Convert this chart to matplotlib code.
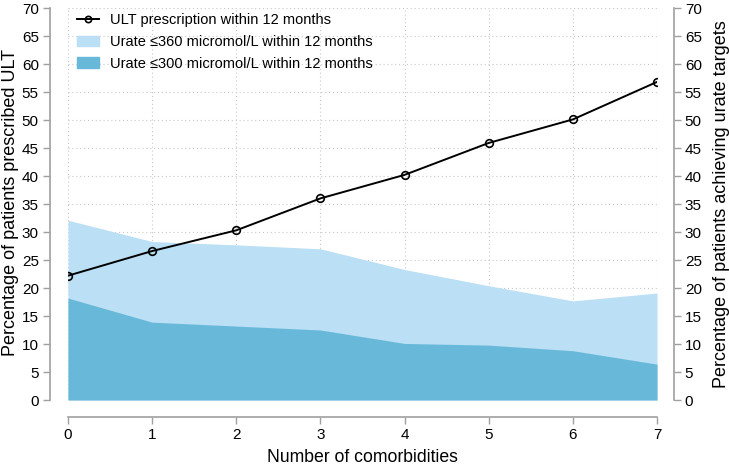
import matplotlib
matplotlib.use("Agg")
import matplotlib.pyplot as plt
from matplotlib.lines import Line2D
from matplotlib.patches import Patch

comorbidities = [0, 1, 2, 3, 4, 5, 6, 7]
ult_prescription = [22.2, 26.6, 30.3, 36.0, 40.2, 45.9, 50.1, 56.8]
urate_360 = [32.1, 28.3, 27.7, 27.0, 23.3, 20.4, 17.7, 19.1]
urate_300 = [18.2, 13.9, 13.2, 12.5, 10.1, 9.8, 8.8, 6.4]
yticks = list(range(0, 75, 5))

plt.rcParams['font.family'] = ['Liberation Sans', 'DejaVu Sans']

fig = plt.figure(figsize=(7.29, 4.66), dpi=100)
ax = fig.add_axes([68/729, 1-400/466, (657-68)/729, (400-8)/466])

light = '#bbdff4'
dark = '#68b8da'
gray = '#a0a0a0'

ax.fill_between(comorbidities, 0, urate_360, color=light, lw=0, zorder=1)
ax.fill_between(comorbidities, 0, urate_300, color=dark, lw=0, zorder=2)
ax.plot(comorbidities, ult_prescription, color='black', lw=1.4, marker='o',
        ms=5.5, mfc='none', mec='black', mew=1.2, zorder=4)

ax.set_xlim(0, 7)
ax.set_ylim(0, 70)
ax.set_xticks(comorbidities)
ax.set_yticks(yticks)
ax.grid(True, linestyle=(0, (1, 2.5)), color='#c8c8c8', lw=0.8, zorder=0)
ax.set_axisbelow(True)

ax.spines['top'].set_visible(False)
ax.spines['right'].set_visible(False)
ax.spines['left'].set_position(('outward', 13))
ax.spines['bottom'].set_position(('outward', 12))
for s in ['left', 'bottom']:
    ax.spines[s].set_color(gray)
    ax.spines[s].set_linewidth(1.2)
ax.tick_params(axis='both', colors=gray, labelcolor='black', labelsize=11,
               length=5, width=1, pad=3)
ax.set_xlabel('Number of comorbidities', fontsize=12.7, labelpad=5)
ax.set_ylabel('Percentage of patients prescribed ULT', fontsize=13)
ax.yaxis.set_label_coords((19 - 68) / 589, 0.505)

ax2 = ax.twinx()
ax2.set_ylim(0, 70)
ax2.set_yticks(yticks)
for s in ['top', 'left', 'bottom']:
    ax2.spines[s].set_visible(False)
ax2.spines['right'].set_position(('outward', 12))
ax2.spines['right'].set_color(gray)
ax2.spines['right'].set_linewidth(1.2)
ax2.tick_params(axis='y', colors=gray, labelcolor='black', labelsize=11,
                length=5, width=1, pad=3)
ax2.set_ylabel('Percentage of patients achieving urate targets', fontsize=13, labelpad=8)

handles = [
    Line2D([0], [0], color='black', lw=1.4, marker='o', ms=4.5, mfc='none', mew=1.2),
    Patch(color=light),
    Patch(color=dark),
]
labels = ['ULT prescription within 12 months',
          'Urate \u2264360 micromol/L within 12 months',
          'Urate \u2264300 micromol/L within 12 months']
ax.legend(handles, labels, loc='upper left', frameon=False, fontsize=10.5,
          bbox_to_anchor=(0.0, 1.01), handlelength=1.5, handletextpad=0.75,
          borderaxespad=0.0, borderpad=0.62, labelspacing=0.53)

fig.savefig('out.png', dpi=100)
